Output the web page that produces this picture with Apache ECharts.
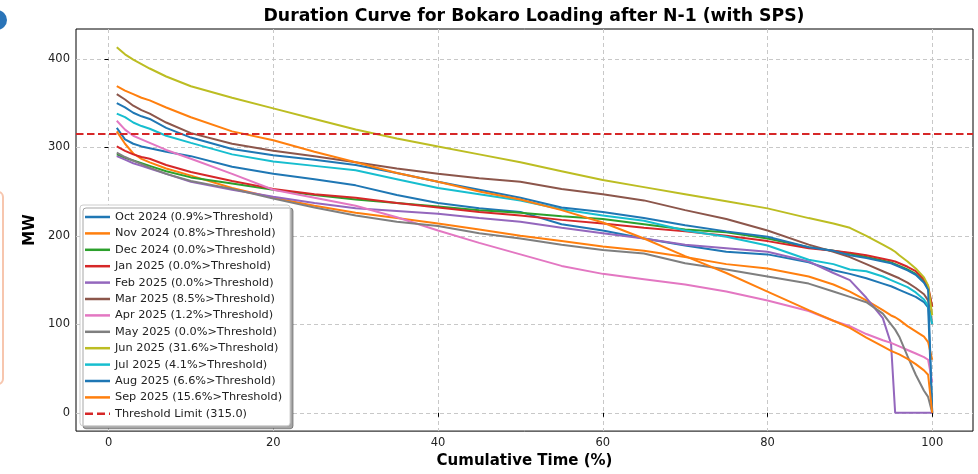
<!DOCTYPE html>
<html><head><meta charset="utf-8">
<script src="https://cdn.jsdelivr.net/npm/echarts@6/dist/echarts.min.js"></script>
<style>html,body{margin:0;padding:0;background:#fff}#c{width:978px;height:474px}</style>
</head><body><div id="c"></div>
<script>
// Cumulative time (%) sample points shared by all curves
const xs = [1, 2, 3, 4, 5, 7, 10, 15, 20, 25, 30, 35, 40, 45, 50, 55, 60, 65, 70, 75, 80, 85, 88, 90, 92, 94, 95, 95.5, 96, 97, 98, 99, 99.5, 100];

const months = ['Oct 2024', 'Nov 2024', 'Dec 2024', 'Jan 2025', 'Feb 2025', 'Mar 2025', 'Apr 2025', 'May 2025', 'Jun 2025', 'Jul 2025', 'Aug 2025', 'Sep 2025'];
const pctAbove = ['0.9', '0.8', '0.0', '0.0', '0.0', '8.5', '1.2', '0.0', '31.6', '4.1', '6.6', '15.6'];

// MW values (sorted, descending)
const oct24 = [322, 309, 304, 301, 299, 295, 290, 278, 270, 264, 257, 246, 237, 231, 227, 213, 206, 197, 189, 182, 179, 170, 161, 157, 152, 146, 143, 141, 139, 135, 131, 125, 119, 0];
const nov24 = [318, 304, 293, 287, 283, 276, 268, 254, 243, 234, 226, 220, 214, 207, 200, 194, 188, 183, 176, 168, 163, 154, 145, 137, 127, 116, 110, 108, 105, 98, 92, 86, 80, 60];
const dec24 = [292, 288, 285, 282, 279, 273, 266, 259, 252, 246, 241, 237, 233, 229, 226, 222, 219, 213, 207, 204, 197, 187, 183, 180, 176, 172, 170, 168, 166, 162, 157, 148, 140, 120];
const jan25 = [301, 296, 292, 289, 287, 280, 272, 262, 253, 247, 243, 237, 232, 227, 223, 218, 214, 209, 205, 200, 194, 186, 183, 181, 178, 174, 172, 171, 169, 165, 160, 151, 143, 120];
const feb25 = [290, 286, 282, 279, 276, 270, 261, 252, 244, 237, 231, 228, 225, 220, 216, 209, 203, 197, 190, 186, 182, 171, 158, 150, 130, 107, 78, 0, 0, 0, 0, 0, 0, 0];
const mar25 = [360, 354, 347, 342, 338, 328, 316, 304, 296, 290, 283, 276, 270, 265, 261, 253, 247, 240, 229, 219, 206, 190, 182, 176, 168, 160, 156, 154, 152, 147, 141, 134, 127, 100];
const apr25 = [330, 320, 313, 309, 305, 297, 287, 270, 252, 243, 234, 221, 206, 192, 179, 166, 157, 151, 145, 137, 127, 115, 104, 98, 89, 82, 79, 77, 75, 71, 67, 63, 60, 35];
const may25 = [294, 289, 285, 281, 277, 270, 262, 253, 242, 232, 223, 216, 211, 203, 197, 190, 184, 180, 169, 162, 154, 146, 137, 131, 125, 112, 100, 94, 86, 64, 43, 25, 18, 0];
const jun25 = [413, 405, 399, 394, 389, 380, 369, 356, 344, 332, 320, 310, 301, 292, 283, 273, 263, 255, 247, 239, 231, 220, 214, 209, 200, 190, 185, 182, 178, 171, 163, 153, 144, 110];
const jul25 = [338, 334, 328, 324, 321, 313, 305, 292, 284, 279, 274, 264, 254, 247, 240, 230, 223, 217, 206, 199, 189, 173, 168, 162, 160, 154, 150, 148, 146, 142, 136, 128, 121, 100];
const aug25 = [350, 345, 339, 335, 332, 322, 311, 298, 291, 286, 280, 271, 261, 252, 243, 232, 227, 220, 212, 205, 199, 187, 183, 178, 175, 171, 169, 167, 165, 161, 156, 147, 139, 0];
const sep25 = [369, 364, 360, 356, 353, 345, 334, 318, 308, 295, 283, 271, 261, 250, 241, 229, 215, 197, 177, 158, 137, 116, 104, 96, 85, 75, 70, 68, 66, 61, 55, 48, 43, 0];

const threshold = 315.0;
const xTicks = [0, 20, 40, 60, 80, 100];
const yTicks = [0, 100, 200, 300, 400];

const curves = [oct24, nov24, dec24, jan25, feb25, mar25, apr25, may25, jun25, jul25, aug25, sep25];
const colors = ['#1f77b4', '#ff7f0e', '#2ca02c', '#d62728', '#9467bd', '#8c564b', '#e377c2', '#7f7f7f', '#bcbd22', '#17becf', '#1f77b4', '#ff7f0e'];

// matplotlib-style 5% margins
const xMin = 1 - 0.05 * 99, xMax = 100 + 0.05 * 99;
const yMin = 0 - 0.05 * 413, yMax = 413 + 0.05 * 413;

const series = curves.map((vals, i) => ({
  name: months[i] + ' (' + pctAbove[i] + '%>Threshold)',
  type: 'line',
  data: vals.map((v, j) => [xs[j], v]),
  symbol: 'none',
  smooth: false,
  color: colors[i],
  lineStyle: { width: 2, color: colors[i] },
  emphasis: { disabled: true },
  z: 2
}));
series.push({
  name: 'Threshold Limit (' + threshold.toFixed(1) + ')',
  type: 'line',
  data: [[xMin, threshold], [xMax, threshold]],
  symbol: 'none',
  color: '#d62728',
  lineStyle: { width: 2.2, color: '#d62728', type: [7.5, 3.5] },
  emphasis: { disabled: true },
  z: 3
});

const solidIcon = 'path://M0,0 L25,0 L25,2.5 L0,2.5 Z';
const dashIcon = 'path://M0,0 L8,0 L8,2.5 L0,2.5 Z M12,0 L20,0 L20,2.5 L12,2.5 Z M24,0 L25,0 L25,2.5 L24,2.5 Z';

const chart = echarts.init(document.getElementById('c'), null, { renderer: 'canvas' });
const font = 'DejaVu Sans';
chart.setOption({
  animation: false,
  backgroundColor: '#ffffff',
  textStyle: { fontFamily: font },
  grid: { left: 76, right: 5, top: 29, bottom: 41, show: true, borderColor: '#000', borderWidth: 1, backgroundColor: 'transparent' },
  graphic: [
    { type: 'text', x: 534, y: 8, style: { text: 'Duration Curve for Bokaro Loading after N-1 (with SPS)', font: 'bold 17.3px "DejaVu Sans"', fill: '#000', textAlign: 'center' } },
    { type: 'circle', shape: { cx: -3, cy: 20, r: 10 }, style: { fill: '#2a74b8' } },
    { type: 'rect', shape: { x: -8, y: 192, width: 11, height: 192, r: 5 }, style: { fill: 'none', stroke: '#f7c6ae', lineWidth: 2 } }
  ],
  legend: {
    orient: 'vertical',
    left: 80, top: 205,
    itemWidth: 25, itemHeight: 2.5, itemGap: 2.4,
    padding: [5, 8, 5, 5],
    backgroundColor: '#fff',
    borderColor: '#cccccc', borderWidth: 1, borderRadius: 3,
    shadowColor: 'rgba(0,0,0,0.35)', shadowBlur: 0, shadowOffsetX: 3, shadowOffsetY: 3,
    textStyle: { fontFamily: font, fontSize: 11.3, color: '#222', lineHeight: 14 },
    data: series.map((s, i) => ({ name: s.name, icon: i < curves.length ? solidIcon : dashIcon }))
  },
  xAxis: {
    type: 'value', min: xMin, max: xMax,
    name: 'Cumulative Time (%)', nameLocation: 'middle', nameGap: 21,
    nameTextStyle: { fontFamily: font, fontWeight: 'bold', fontSize: 15, color: '#000' },
    axisLine: { show: false },
    axisTick: { show: true, length: 4, lineStyle: { color: '#000' }, customValues: xTicks },
    axisLabel: { customValues: xTicks, fontSize: 11.5, color: '#222', margin: 6, fontFamily: font },
    splitLine: { show: true, lineStyle: { color: '#c8c8c8', type: [4, 3], width: 1 } }
  },
  yAxis: {
    type: 'value', min: yMin, max: yMax,
    name: 'MW', nameLocation: 'middle', nameGap: 33,
    nameTextStyle: { fontFamily: font, fontWeight: 'bold', fontSize: 15, color: '#000' },
    axisLine: { show: false },
    axisTick: { show: true, length: 4, lineStyle: { color: '#000' }, customValues: yTicks },
    axisLabel: { customValues: yTicks, fontSize: 11.5, color: '#222', margin: 6, fontFamily: font },
    splitLine: { show: true, lineStyle: { color: '#c8c8c8', type: [4, 3], width: 1 } }
  },
  series: series
});
</script>
</body></html>
